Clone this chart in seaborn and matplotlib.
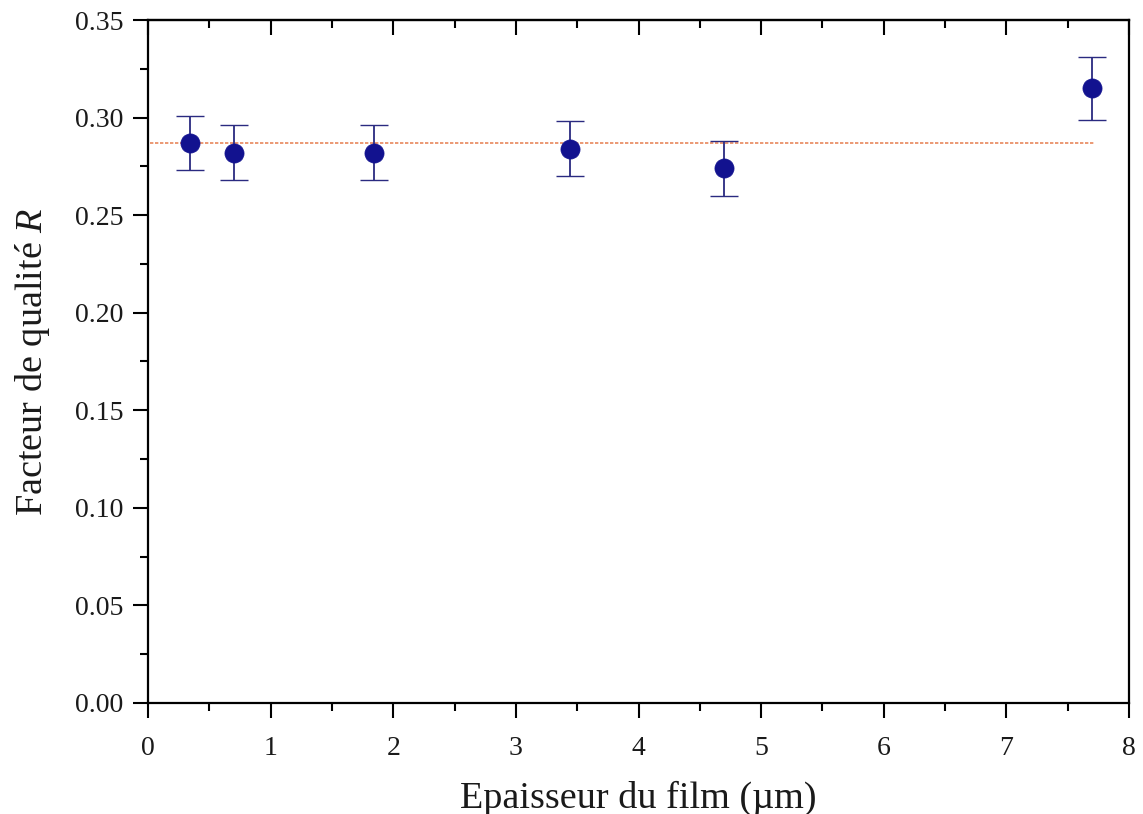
import matplotlib
matplotlib.use("Agg")
import matplotlib.pyplot as plt
import seaborn as sns
import pandas as pd
from matplotlib.ticker import MultipleLocator

# Data
thickness = [0.34, 0.70, 1.84, 3.44, 4.70, 7.70]
quality_r = [0.287, 0.282, 0.282, 0.284, 0.274, 0.315]
r_error = [0.014, 0.014, 0.014, 0.014, 0.014, 0.016]
mean_x = [0.02, 7.72]
mean_y = [0.287, 0.287]

xticks = [0, 1, 2, 3, 4, 5, 6, 7, 8]
yticks = [0.00, 0.05, 0.10, 0.15, 0.20, 0.25, 0.30, 0.35]

sns.set_theme(style="white")
plt.rcParams["font.family"] = ["Liberation Serif", "DejaVu Serif"]
plt.rcParams["mathtext.fontset"] = "custom"
plt.rcParams["mathtext.rm"] = "Liberation Serif"
plt.rcParams["mathtext.it"] = "Liberation Serif:italic"

df = pd.DataFrame({"x": thickness, "y": quality_r, "err": r_error})
df_line = pd.DataFrame({"x": mean_x, "y": mean_y})

fig = plt.figure(figsize=(11.43, 8.14), dpi=100)
ax = fig.add_axes([0.1295, 0.1364, 0.9878 - 0.1295, 0.9754 - 0.1364])

navy = "#12128f"
sns.lineplot(data=df_line, x="x", y="y", ax=ax, color="#e8885c",
             linewidth=1.2, linestyle=(0, (2, 1)), zorder=1)
ax.errorbar(df["x"], df["y"], yerr=df["err"], fmt="none", ecolor="#2a2a80",
            elinewidth=1.3, capsize=10, capthick=1.0, zorder=2)
sns.scatterplot(data=df, x="x", y="y", ax=ax, color=navy, s=190,
                edgecolor=navy, linewidth=0.5, zorder=3)

ax.set_xlim(0, 8)
ax.set_ylim(0, 0.35)
ax.set_xticks(xticks)
ax.set_xticklabels([str(t) for t in xticks])
ax.set_yticks(yticks)
ax.set_yticklabels([f"{t:.2f}" for t in yticks])
ax.xaxis.set_minor_locator(MultipleLocator(0.5))
ax.yaxis.set_minor_locator(MultipleLocator(0.025))

for s in ax.spines.values():
    s.set_color("black")
    s.set_linewidth(1.6)

ax.tick_params(axis="both", which="major", direction="out", length=11,
               width=1.5, color="black", labelsize=20, labelcolor="#1a1a1a")
ax.tick_params(axis="both", which="minor", direction="out", length=6,
               width=1.5, color="black")
ax.tick_params(axis="y", which="major", pad=7)
ax.tick_params(axis="x", which="major", pad=13)
ax.tick_params(bottom=True, left=True, which="both")

sec = ax.secondary_xaxis("top")
sec.set_xticks(xticks)
sec.xaxis.set_minor_locator(MultipleLocator(0.5))
sec.tick_params(axis="x", which="major", direction="in", length=11, width=1.5,
                labeltop=False, color="black")
sec.tick_params(axis="x", which="minor", direction="in", length=6, width=1.5,
                color="black")
sec.spines["top"].set_linewidth(1.6)

ax.set_xlabel("Epaisseur du film (µm)", fontsize=27.5, color="#1a1a1a", labelpad=14)
ax.set_ylabel("Facteur de qualité $R$", fontsize=27.5, color="#1a1a1a", labelpad=16)
ax.grid(False)

fig.savefig("out.png", dpi=100)
